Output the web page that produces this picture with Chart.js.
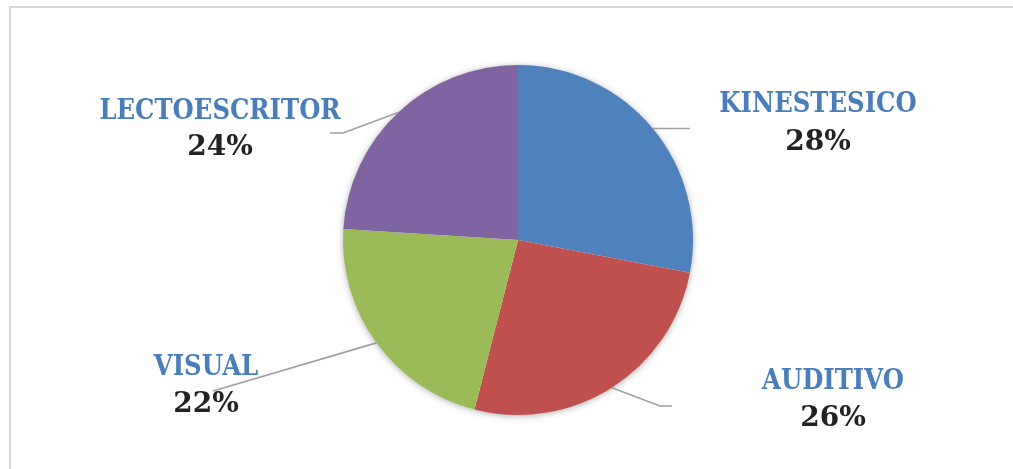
<!DOCTYPE html>
<html>
<head>
<meta charset="utf-8">
<script src="https://cdn.jsdelivr.net/npm/chart.js@4.4.1/dist/chart.umd.min.js"></script>
<style>
  html, body { margin: 0; padding: 0; background: #fff; overflow: hidden; }
  #frame {
    position: absolute; left: 9px; top: 6px; width: 1100px; height: 600px;
    border-top: 2px solid #d9d9d9; border-left: 2px solid #d9d9d9;
  }
  #wrap { position: absolute; left: 0; top: 0; width: 1013px; height: 469px; }
</style>
</head>
<body>
<div id="frame"></div>
<div id="wrap"><canvas id="pieChart" width="1013" height="469"></canvas></div>
<script>
// data
const categories = ['KINESTESICO', 'AUDITIVO', 'VISUAL', 'LECTOESCRITOR'];
const percentages = [28, 26, 22, 24];
const sliceColors = ['#4F81BD', '#C0504D', '#9BBB59', '#8064A2'];

// label placement, relative to pie centre (name baseline, percent baseline)
const labelOffsets = [
    { x: 300, nameY: -128, pctY: -90 },
    { x: 315, nameY: 149, pctY: 186 },
    { x: -312, nameY: 135, pctY: 172 },
    { x: -298, nameY: -121, pctY: -85 }
];
// leader line bends / ends, relative to pie centre (null = start at slice edge)
const leaderPaths = [
    [null, [172, -112]],
    [null, [142, 166], [154, 166]],
    [null, [-305, 151]],
    [null, [-175, -107], [-188, -107]]
];
const nameSquash = 0.87; // Cambria-like narrow caps

const pieShadow = {
    id: 'pieShadow',
    beforeDatasetsDraw(chart) {
        const arc = chart.getDatasetMeta(0).data[0];
        if (!arc) return;
        const ctx = chart.ctx;
        ctx.save();
        ctx.shadowColor = 'rgba(0,0,0,0.35)';
        ctx.shadowBlur = 7;
        ctx.shadowOffsetY = 1;
        ctx.fillStyle = '#fff';
        ctx.beginPath();
        ctx.arc(arc.x, arc.y, arc.outerRadius - 0.5, 0, Math.PI * 2);
        ctx.fill();
        ctx.restore();
    }
};

const sliceLabels = {
    id: 'sliceLabels',
    afterDatasetsDraw(chart) {
        const ctx = chart.ctx;
        const meta = chart.getDatasetMeta(0);
        meta.data.forEach(function (arc, i) {
            const cx = arc.x, cy = arc.y;
            const mid = (arc.startAngle + arc.endAngle) / 2;
            const sx = cx + arc.outerRadius * Math.cos(mid);
            const sy = cy + arc.outerRadius * Math.sin(mid);

            // leader line
            ctx.save();
            ctx.strokeStyle = '#a0a0a0';
            ctx.lineWidth = 1.6;
            ctx.beginPath();
            ctx.moveTo(sx, sy);
            leaderPaths[i].forEach(function (p, k) {
                if (k === 0 && p === null) return;
                let px = cx + p[0], py = cy + p[1];
                // first label's line runs flat from the slice edge
                if (leaderPaths[i].length === 2 && i === 0) py = sy;
                ctx.lineTo(px, py);
            });
            ctx.stroke();
            ctx.restore();

            // texts
            const off = labelOffsets[i];
            ctx.save();
            ctx.textAlign = 'center';
            ctx.textBaseline = 'alphabetic';
            ctx.font = "bold 28px 'DejaVu Serif'";
            ctx.fillStyle = '#4A7EBB';
            ctx.save();
            ctx.translate(cx + off.x, cy + off.nameY);
            ctx.scale(nameSquash, 1);
            ctx.fillText(categories[i], 0, 0);
            ctx.restore();
            ctx.fillStyle = '#222';
            ctx.fillText(percentages[i] + '%', cx + off.x, cy + off.pctY);
            ctx.restore();
        });
    }
};

new Chart(document.getElementById('pieChart'), {
    type: 'pie',
    data: {
        labels: categories,
        datasets: [{
            data: percentages,
            backgroundColor: sliceColors,
            borderWidth: 0,
            hoverOffset: 0
        }]
    },
    options: {
        responsive: false,
        animation: false,
        layout: { padding: { top: 65, bottom: 54, left: 343, right: 320 } },
        plugins: {
            legend: { display: false },
            tooltip: { enabled: false }
        }
    },
    plugins: [pieShadow, sliceLabels]
});
</script>
</body>
</html>
